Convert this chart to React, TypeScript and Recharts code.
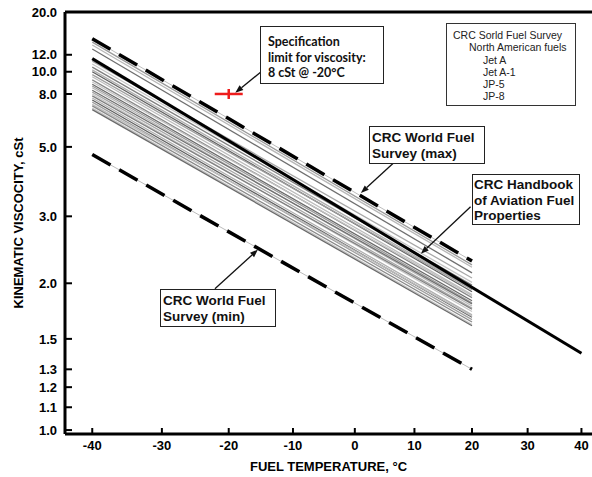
import { ComposedChart, Line, Scatter, XAxis, YAxis, ReferenceLine } from 'recharts';

// fuel temperature, °C
const xTicks = [-40, -30, -20, -10, 0, 10, 20, 30, 40];
// kinematic viscosity, cSt
const yTicks = [1.0, 1.1, 1.2, 1.3, 1.5, 2.0, 3.0, 5.0, 8.0, 10.0, 12.0, 20.0];

// survey fuels: each one is a straight line between -40 °C and 20 °C
const surveyTemps = [-40, 20];
const surveyAtMinus40 = [13.85, 13.4, 12.8, 11.2, 10.85, 10.5, 10.2, 10.0, 9.7, 9.5, 9.2, 9.0, 8.8, 8.65, 8.5, 8.3, 8.15, 8.0, 7.85, 7.7, 7.55, 7.4, 7.25, 7.15, 7.0, 6.9];
const surveyAt20 = [2.22, 2.19, 2.12, 2.06, 2.01, 1.98, 1.94, 1.91, 1.93, 1.88, 1.85, 1.87, 1.82, 1.8, 1.77, 1.79, 1.75, 1.72, 1.74, 1.69, 1.67, 1.65, 1.68, 1.63, 1.61, 1.6];
const surveyGrays = ['#9a9a9a', '#b8b8b8', '#707070', '#a8a8a8', '#c6c6c6', '#808080', '#b0b0b0', '#606060', '#a0a0a0', '#bdbdbd', '#8a8a8a', '#c2c2c2', '#6a6a6a'];

const handbookTemps = [-40, 40];
const handbookVisc = [11.5, 1.4];

const maxVisc = [14.4, 2.27];
const minVisc = [4.7, 1.3];

const specTemp = [-20];
const specVisc = [8];

// ASTM D341 chart axes: log of absolute temperature, double log of viscosity
const tx = (c: number) => Math.log10(c + 273.15);
const ty = (v: number) => Math.log10(Math.log10(v + 0.7 + Math.exp(-1.47 - 1.84 * v - 0.51 * v * v)));

const xDomain = [tx(-43.8), tx(42)];
const yDomain = [ty(0.984), ty(20)];

const FONT = '"Liberation Sans", Arial, sans-serif';

const toPoints = (temps: number[], visc: number[]) =>
  temps.map((t, i) => ({ x: tx(t), y: ty(visc[i]) }));

const surveyLines = surveyAtMinus40.map((v, i) => toPoints(surveyTemps, [v, surveyAt20[i]]));
const handbookLine = toPoints(handbookTemps, handbookVisc);
const maxLine = toPoints(surveyTemps, maxVisc);
const minLine = toPoints(surveyTemps, minVisc);
const specPoint = toPoints(specTemp, specVisc);

// callout arrows: [box corner, target] in (°C, cSt)
const arrows = [
  [[-15.0, 10.0], [-19.0, 8.1]],
  [[6.4, 4.39], [1.0, 3.52]],
  [[19.75, 3.2], [11.1, 2.37]],
  [[-22.1, 1.94], [-15.5, 2.43]],
];

const XTick = (p: any) => (
  <g>
    <line x1={p.x} y1={p.y} x2={p.x} y2={p.y - 6} stroke="#000" strokeWidth={2} />
    <text x={p.x} y={p.y + 16} textAnchor="middle" fontFamily={FONT} fontWeight="bold" fontSize={13} fill="#000">
      {xTicks[p.index]}
    </text>
  </g>
);

const YTick = (p: any) => (
  <g>
    <line x1={p.x} y1={p.y} x2={p.x + 7} y2={p.y} stroke="#000" strokeWidth={2} />
    <text x={p.x - 8} y={p.y} dy="0.36em" textAnchor="end" fontFamily={FONT} fontWeight="bold" fontSize={13} fill="#000">
      {yTicks[p.index].toFixed(1)}
    </text>
  </g>
);

const Arrow = (p: any) => {
  const { x1, y1, x2, y2 } = p;
  const a = Math.atan2(y2 - y1, x2 - x1);
  const len = 8;
  const half = 3;
  const bx = x2 - len * Math.cos(a);
  const by = y2 - len * Math.sin(a);
  const pts = `${x2},${y2} ${bx - half * Math.sin(a)},${by + half * Math.cos(a)} ${bx + half * Math.sin(a)},${by - half * Math.cos(a)}`;
  return (
    <g>
      <line x1={x1} y1={y1} x2={bx} y2={by} stroke="#111" strokeWidth={1.3} />
      <polygon points={pts} fill="#111" />
    </g>
  );
};

const SpecMark = (p: any) => (
  <g stroke="#ee1c1c" strokeWidth={2.5}>
    <line x1={p.cx - 14} y1={p.cy} x2={p.cx + 14} y2={p.cy} />
    <line x1={p.cx} y1={p.cy - 5} x2={p.cx} y2={p.cy + 5} />
  </g>
);

const boxBase: React.CSSProperties = {
  position: 'absolute',
  boxSizing: 'border-box',
  background: '#fff',
  border: '1.5px solid #222',
  fontFamily: FONT,
  fontWeight: 'bold',
  fontSize: 13.5,
  lineHeight: '15.5px',
  color: '#111',
  whiteSpace: 'nowrap',
};

export default function App() {
  return (
    <div style={{ position: 'absolute', left: 0, top: 0, width: 592, height: 477, background: '#fff' }}>
      <ComposedChart width={592} height={477} margin={{ top: 12, right: 0, bottom: 0, left: 0 }}>
        <XAxis
          type="number"
          dataKey="x"
          domain={xDomain}
          ticks={xTicks.map(tx)}
          allowDataOverflow
          interval={0}
          height={43}
          tickSize={0}
          tickMargin={0}
          tickLine={false}
          tick={<XTick />}
          axisLine={{ stroke: '#000', strokeWidth: 3 }}
          label={{ value: 'FUEL TEMPERATURE, °C', position: 'insideBottom', offset: 6, fontFamily: FONT, fontWeight: 'bold', fontSize: 13, fill: '#000' }}
        />
        <YAxis
          type="number"
          dataKey="y"
          domain={yDomain}
          ticks={yTicks.map(ty)}
          allowDataOverflow
          interval={0}
          width={65}
          tickSize={0}
          tickMargin={0}
          tickLine={false}
          tick={<YTick />}
          axisLine={{ stroke: '#000', strokeWidth: 3 }}
          label={{ value: 'KINEMATIC VISCOCITY, cSt', angle: -90, position: 'insideLeft', offset: 18, fontFamily: FONT, fontWeight: 'bold', fontSize: 13, fill: '#000', style: { textAnchor: 'middle' } }}
        />
        <ReferenceLine y={ty(20)} stroke="#000" strokeWidth={3} />
        {surveyLines.map((d, i) => (
          <Line
            key={`s${i}`}
            data={d}
            dataKey="y"
            stroke={surveyGrays[i % surveyGrays.length]}
            strokeWidth={1.3}
            dot={false}
            activeDot={false}
            isAnimationActive={false}
          />
        ))}
        <Line data={handbookLine} dataKey="y" stroke="#000" strokeWidth={3} dot={false} activeDot={false} isAnimationActive={false} />
        {[maxLine, minLine].map((d, i) => (
          <Line key={`g${i}`} data={d} dataKey="y" stroke="#bcbcbc" strokeWidth={1} dot={false} activeDot={false} isAnimationActive={false} />
        ))}
        {[maxLine, minLine].map((d, i) => (
          <Line key={`d${i}`} data={d} dataKey="y" stroke="#000" strokeWidth={3.5} strokeDasharray="21 10" dot={false} activeDot={false} isAnimationActive={false} />
        ))}
        <Scatter data={specPoint} shape={<SpecMark />} isAnimationActive={false} />
        {arrows.map((a, i) => (
          <ReferenceLine
            key={`a${i}`}
            segment={[{ x: tx(a[0][0]), y: ty(a[0][1]) }, { x: tx(a[1][0]), y: ty(a[1][1]) }]}
            ifOverflow="visible"
            shape={Arrow}
          />
        ))}
      </ComposedChart>

      <div style={{ ...boxBase, left: 260, top: 26, width: 124, height: 58, padding: '7px 0 0 7px', fontFamily: 'Lato, "Open Sans", sans-serif', fontSize: 12.5, lineHeight: '15.5px' }}>
        Specification<br />limit for viscosity:<br />8 cSt @ -20°C
      </div>
      <div style={{ ...boxBase, left: 369, top: 126, width: 116, height: 38, padding: '3px 0 0 2px' }}>
        CRC World Fuel<br />Survey (max)
      </div>
      <div style={{ ...boxBase, left: 472, top: 174, width: 108, height: 51, padding: '2px 0 0 1px' }}>
        CRC Handbook<br />of Aviation Fuel<br />Properties
      </div>
      <div style={{ ...boxBase, left: 160, top: 289, width: 116, height: 38, padding: '3px 0 0 2px' }}>
        CRC World Fuel<br />Survey (min)
      </div>
      <div style={{ ...boxBase, left: 446, top: 23, width: 130, height: 83, border: '1px solid #333', fontWeight: 'normal', fontSize: 10.5, lineHeight: '12.3px', color: '#222', padding: '5px 0 0 6px' }}>
        <div>CRC Sorld Fuel Survey</div>
        <div style={{ paddingLeft: 16 }}>North American fuels</div>
        <div style={{ paddingLeft: 30 }}>Jet A</div>
        <div style={{ paddingLeft: 30 }}>Jet A-1</div>
        <div style={{ paddingLeft: 30 }}>JP-5</div>
        <div style={{ paddingLeft: 30 }}>JP-8</div>
      </div>
    </div>
  );
}
